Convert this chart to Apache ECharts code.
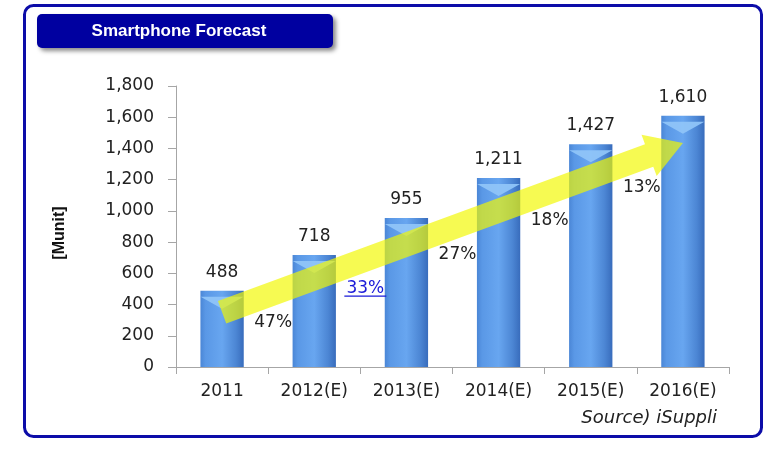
<!DOCTYPE html>
<html>
<head>
<meta charset="utf-8">
<script src="https://cdn.jsdelivr.net/npm/echarts@6/dist/echarts.min.js"></script>
<style>
  html, body { margin: 0; padding: 0; background: #ffffff; }
  #chart { width: 781px; height: 449px; }
</style>
</head>
<body>
<div id="chart"></div>
<script>
// ---- data ----
const categories = ['2011', '2012(E)', '2013(E)', '2014(E)', '2015(E)', '2016(E)'];
const shipments = [488, 718, 955, 1211, 1427, 1610];
const growthLabels = ['47%', '33%', '27%', '18%', '13%'];
const yMin = 0, yMax = 1800, yStep = 200;
const titleText = 'Smartphone Forecast';
const unitText = '[Munit]';
const sourceText = 'Source) iSuppli';
// trend arrow, in data coordinates [category index, value]
const arrowFrom = [0, 350];
const arrowTo = [5, 1435];

const fmt = v => Number(v).toLocaleString('en-US');
const chart = echarts.init(document.getElementById('chart'), null, { renderer: 'canvas' });

const barGradient = new echarts.graphic.LinearGradient(0, 0, 1, 0, [
  { offset: 0, color: '#4a86d6' },
  { offset: 0.12, color: '#5a98e6' },
  { offset: 0.5, color: '#68a6f0' },
  { offset: 0.82, color: '#4c86d4' },
  { offset: 1, color: '#386cbc' }
]);
const labelFont = { color: '#222222', fontSize: 17, fontFamily: 'DejaVu Sans' };

const option = {
  backgroundColor: '#ffffff',
  animation: false,
  grid: { left: 176, right: 52, top: 86, bottom: 82, containLabel: false },
  xAxis: {
    type: 'category',
    data: categories,
    axisLine: { lineStyle: { color: '#a6a6a6', width: 1 } },
    axisTick: { show: true, length: 7, lineStyle: { color: '#a6a6a6' } },
    axisLabel: Object.assign({ margin: 16 }, labelFont)
  },
  yAxis: {
    type: 'value',
    min: yMin, max: yMax, interval: yStep,
    axisLine: { show: true, lineStyle: { color: '#a6a6a6', width: 1 } },
    axisTick: { show: true, length: 8, lineStyle: { color: '#a6a6a6' } },
    splitLine: { show: false },
    axisLabel: Object.assign({ margin: 22, formatter: v => fmt(v) }, labelFont)
  },
  series: [
    {
      type: 'bar',
      data: shipments,
      barWidth: '47%',
      itemStyle: { color: barGradient },
      label: Object.assign({
        show: true, position: 'top', distance: 10,
        formatter: p => fmt(p.value)
      }, labelFont),
      z: 2
    },
    {
      type: 'pictorialBar',
      data: shipments,
      symbol: 'path://M0,0 L20,0 L10,5 Z',
      symbolPosition: 'end',
      symbolSize: [43, 12],
      symbolOffset: [0, '50%'],
      itemStyle: { color: '#8fc4f8', opacity: 0.95 },
      silent: true,
      z: 3
    }
  ]
};
chart.setOption(option);

// ---- overlay graphics (frame, title, arrow, growth labels) ----
const p0 = chart.convertToPixel({ gridIndex: 0 }, arrowFrom);
const p1 = chart.convertToPixel({ gridIndex: 0 }, arrowTo);
const dx = p1[0] - p0[0], dy = p1[1] - p0[1];
const len = Math.sqrt(dx * dx + dy * dy);
const ux = dx / len, uy = dy / len;
const nx = -uy, ny = ux;
const bodyHalf = 12, headHalf = 22, headLen = 36;
const hx = p1[0] - ux * headLen, hy = p1[1] - uy * headLen;
const arrowPts = [
  [p0[0] + nx * bodyHalf, p0[1] + ny * bodyHalf],
  [hx + nx * bodyHalf, hy + ny * bodyHalf],
  [hx + nx * headHalf, hy + ny * headHalf],
  [p1[0], p1[1]],
  [hx - nx * headHalf, hy - ny * headHalf],
  [hx - nx * bodyHalf, hy - ny * bodyHalf],
  [p0[0] - nx * bodyHalf, p0[1] - ny * bodyHalf]
];

const growthGraphics = [];
growthLabels.forEach((txt, i) => {
  const a = chart.convertToPixel({ gridIndex: 0 }, [i, 0]);
  const b = chart.convertToPixel({ gridIndex: 0 }, [i + 1, 0]);
  const x = (a[0] + b[0]) / 2 + 5;
  const yLine = p0[1] + (x - p0[0]) * (dy / dx);
  const y = yLine + 29;
  const isBlue = i === 1;
  growthGraphics.push({
    type: 'text', z: 120, x: x, y: y,
    style: {
      text: txt, fill: isBlue ? '#1a1ad8' : '#222222',
      font: '17px "DejaVu Sans"', align: 'center', verticalAlign: 'middle'
    }
  });
  if (isBlue) {
    growthGraphics.push({
      type: 'line', z: 120,
      shape: { x1: x - 21, y1: y + 7.5, x2: x + 21, y2: y + 7.5 },
      style: { stroke: '#1a1ad8', lineWidth: 1.2 }
    });
  }
});

chart.setOption({
  graphic: [
    {
      type: 'rect', z: 0, silent: true,
      shape: { x: 24.5, y: 5.5, width: 737, height: 431, r: 9 },
      style: { fill: 'none', stroke: '#0c0ca8', lineWidth: 3 }
    },
    {
      type: 'rect', z: 50,
      shape: { x: 37, y: 14, width: 296, height: 34, r: 5 },
      style: { fill: '#0000a0', shadowColor: 'rgba(0,0,0,0.45)', shadowBlur: 4, shadowOffsetX: 3, shadowOffsetY: 3 }
    },
    {
      type: 'text', z: 51, x: 179, y: 31,
      style: { text: titleText, fill: '#ffffff', font: 'bold 17px "Liberation Sans"', align: 'center', verticalAlign: 'middle' }
    },
    {
      type: 'text', z: 51, x: 60, y: 233, rotation: Math.PI / 2,
      style: { text: unitText, fill: '#111111', font: 'bold 16px "Liberation Sans"', align: 'center', verticalAlign: 'middle' }
    },
    {
      type: 'text', z: 51, x: 717, y: 418,
      style: { text: sourceText, fill: '#222222', font: 'italic 18px "DejaVu Sans"', align: 'right', verticalAlign: 'middle' }
    },
    {
      type: 'polygon', z: 100, silent: true,
      shape: { points: arrowPts },
      style: { fill: 'rgba(242,248,0,0.68)' }
    }
  ].concat(growthGraphics)
});
</script>
</body>
</html>
